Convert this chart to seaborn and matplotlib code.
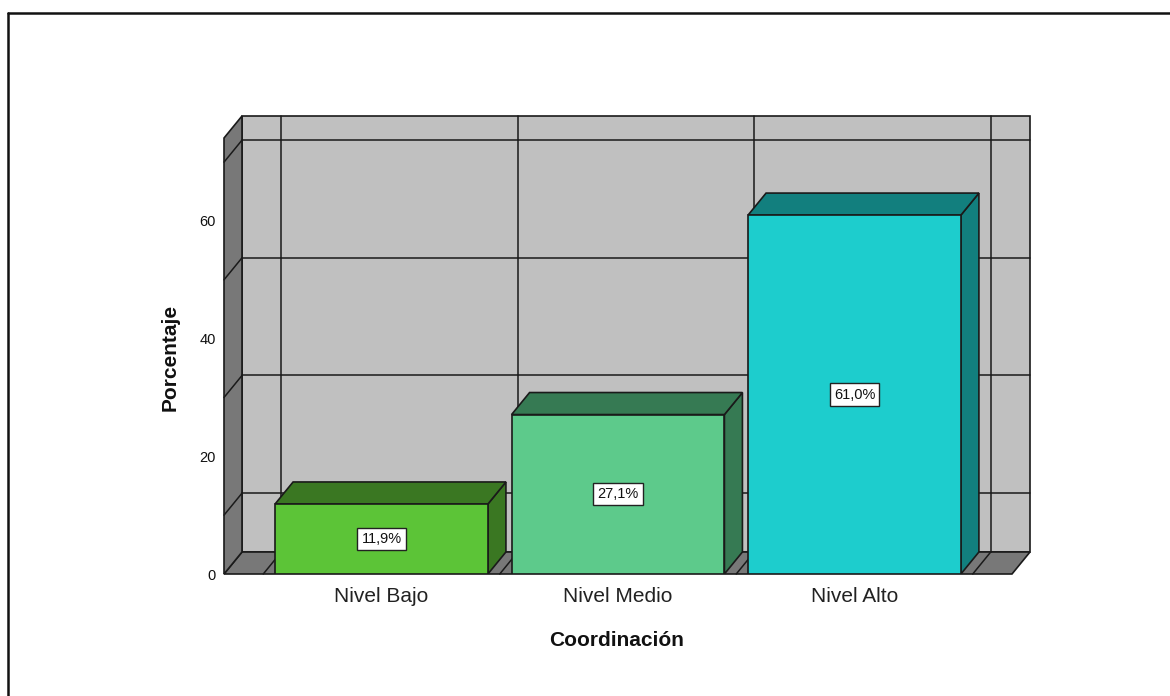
import matplotlib
matplotlib.use("Agg")
import matplotlib.pyplot as plt
import seaborn as sns
import pandas as pd
from matplotlib.patches import Polygon
from matplotlib.lines import Line2D

# ---- data ----
categories = ["Nivel Bajo", "Nivel Medio", "Nivel Alto"]
values = [11.9, 27.1, 61.0]
labels = ["11,9%", "27,1%", "61,0%"]
y_ticks = [0, 20, 40, 60]
grid_values = [10, 30, 50, 70]
front_colors = ["#5CC437", "#5DCA8B", "#1DCDCD"]
dark_colors = ["#3A7722", "#367A53", "#127F7E"]
x_title = "Coordinación"
y_title = "Porcentaje"

sns.set_theme(style="white")
plt.rcParams["font.family"] = ["Liberation Sans", "DejaVu Sans"]

W, H = 1170, 696
fig = plt.figure(figsize=(W / 100, H / 100), dpi=100)
ax_left, ax_right, ax_bot, ax_top = 224, 1030, 574, 116
ax = fig.add_axes([ax_left / W, (H - ax_bot) / H, (ax_right - ax_left) / W, (ax_bot - ax_top) / H])

px_x = 236.5
px_y = 5.88
dx = 18 / px_x
dy = 22 / px_y
x0, x1 = -0.666, 2.666
y_front_top = 74.1
ymax = y_front_top + dy
bw = 0.9

ax.set_xlim(x0, x1 + dx)
ax.set_ylim(0, ymax)

wall_c = "#C0C0C0"
side_c = "#787878"
edge = "#1a1a1a"

# back wall
ax.add_patch(Polygon([(x0 + dx, dy), (x1 + dx, dy), (x1 + dx, ymax), (x0 + dx, ymax)],
                     closed=True, facecolor=wall_c, edgecolor=edge, lw=1.2, zorder=1, clip_on=False))
# floor
ax.add_patch(Polygon([(x0, 0), (x1, 0), (x1 + dx, dy), (x0 + dx, dy)],
                     closed=True, facecolor=side_c, edgecolor=edge, lw=1.2, zorder=1, clip_on=False))
# left wall
ax.add_patch(Polygon([(x0, 0), (x0 + dx, dy), (x0 + dx, ymax), (x0, y_front_top)],
                     closed=True, facecolor=side_c, edgecolor=edge, lw=1.2, zorder=1, clip_on=False))

# horizontal gridlines (back wall + left wall)
for g in grid_values:
    ax.add_line(Line2D([x0 + dx, x1 + dx], [g + dy, g + dy], color=edge, lw=1.1, zorder=2, clip_on=False))
    ax.add_line(Line2D([x0, x0 + dx], [g, g + dy], color=edge, lw=1.1, zorder=2, clip_on=False))
# vertical gridlines at category boundaries (back wall + floor)
for b in [-0.5, 0.5, 1.5, 2.5]:
    ax.add_line(Line2D([b + dx, b + dx], [dy, ymax], color=edge, lw=1.1, zorder=2, clip_on=False))
    ax.add_line(Line2D([b, b + dx], [0, dy], color=edge, lw=1.1, zorder=2, clip_on=False))

# front faces via seaborn
df = pd.DataFrame({"cat": categories, "val": values})
sns.barplot(data=df, x="cat", y="val", hue="cat", palette=front_colors, width=bw,
            edgecolor=edge, linewidth=1.2, legend=False, ax=ax, zorder=5, saturation=1)

# 3D top and side faces
for i, (v, dc) in enumerate(zip(values, dark_colors)):
    l, r = i - bw / 2, i + bw / 2
    ax.add_patch(Polygon([(r, 0), (r + dx, dy), (r + dx, v + dy), (r, v)], closed=True,
                         facecolor=dc, edgecolor=edge, lw=1.2, zorder=4))
    ax.add_patch(Polygon([(l, v), (l + dx, v + dy), (r + dx, v + dy), (r, v)], closed=True,
                         facecolor=dc, edgecolor=edge, lw=1.2, zorder=4))
    ax.text(i, v / 2, labels[i], ha="center", va="center", fontsize=10.5, color="#111",
            zorder=7, bbox=dict(boxstyle="square,pad=0.28", fc="white", ec="#222", lw=1))

ax.set_xlim(x0, x1 + dx)
ax.set_ylim(0, ymax)
for s in ax.spines.values():
    s.set_visible(False)
ax.set_yticks(y_ticks)
ax.set_yticklabels([str(t) for t in y_ticks])
ax.tick_params(axis="y", length=0, pad=6, labelsize=10.5, labelcolor="#111")
ax.tick_params(axis="x", length=0, pad=9, labelsize=15, labelcolor="#222")
ax.set_xticks(range(len(categories)))
ax.set_xticklabels(categories)

ax.set_xlabel(x_title, fontsize=15, fontweight="bold", color="#111", va="center")
ax.xaxis.set_label_coords((617 - ax_left) / (ax_right - ax_left), -(641 - ax_bot) / (ax_bot - ax_top))
ax.set_ylabel(y_title, fontsize=15, fontweight="bold", color="#111", va="center")
ax.yaxis.set_label_coords(-(ax_left - 170) / (ax_right - ax_left), (ax_bot - 357) / (ax_bot - ax_top))

# outer frame (left and top edges visible)
fig.add_artist(Line2D([8 / W, 8 / W], [0, 1 - 13 / H], color="#111", lw=1.8, transform=fig.transFigure))
fig.add_artist(Line2D([8 / W, 1], [1 - 13 / H, 1 - 13 / H], color="#111", lw=1.8, transform=fig.transFigure))

fig.savefig("out.png", dpi=100, facecolor="white")
